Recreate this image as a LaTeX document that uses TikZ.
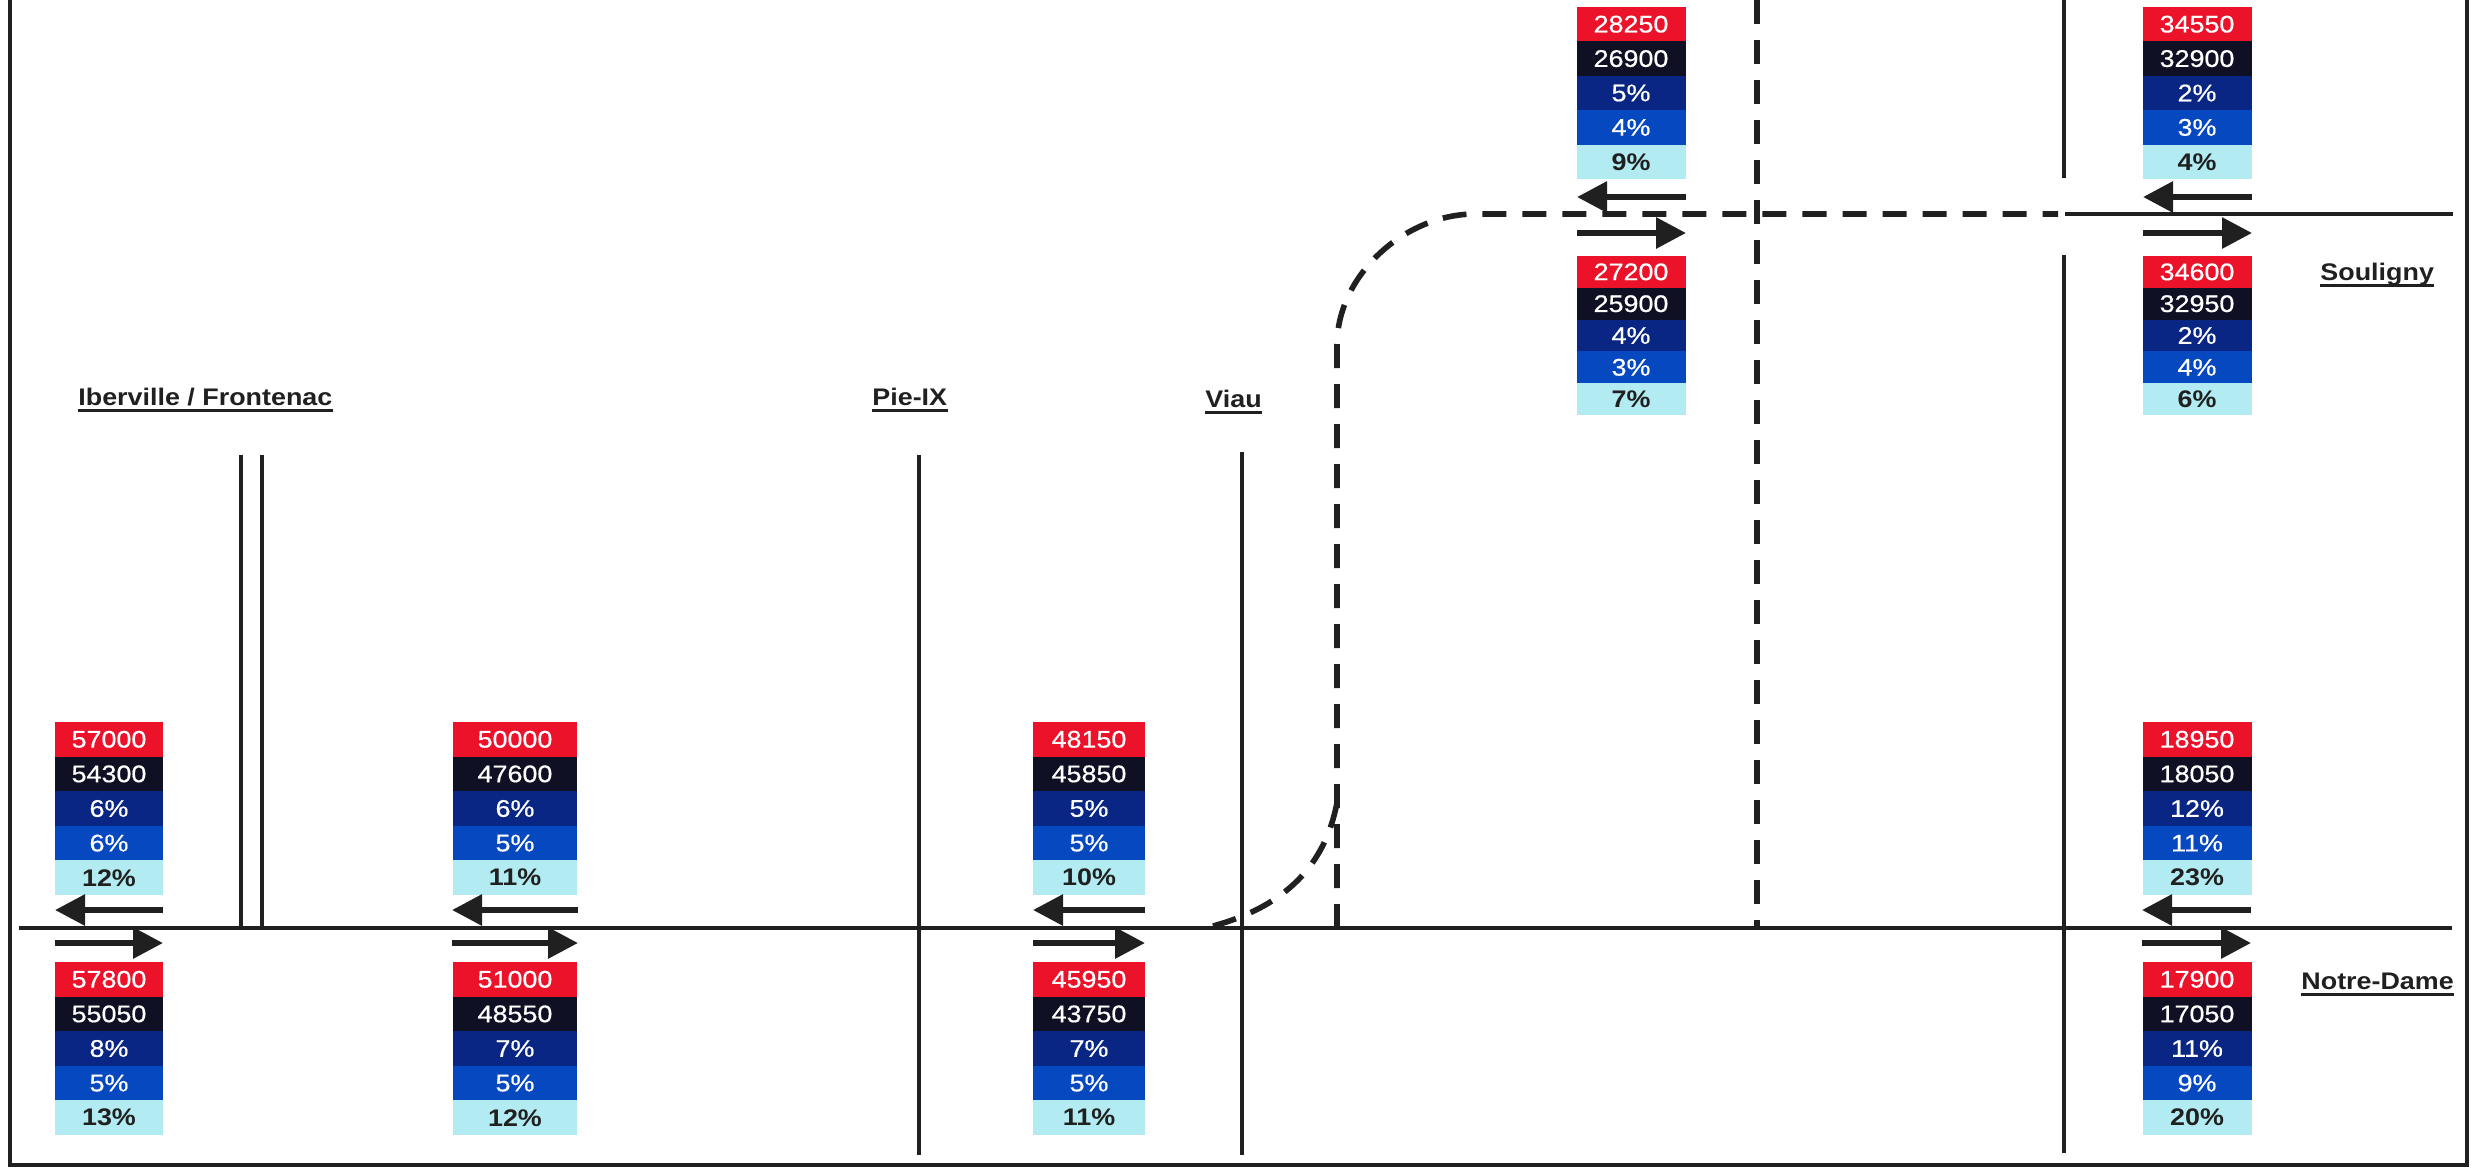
\documentclass[tikz,border=0pt]{standalone}
\usepackage{fontspec}
\newfontfamily\labfont{Liberation Sans}[FakeStretch=1.12]
\newfontfamily\numfont{Liberation Sans}[FakeStretch=1.12,FakeBold=0.6]
\usetikzlibrary{arrows.meta}
\definecolor{cred}{RGB}{236,18,42}
\definecolor{cblk}{RGB}{16,16,36}
\definecolor{cdark}{RGB}{10,38,132}
\definecolor{cblue}{RGB}{6,72,192}
\definecolor{ccyan}{RGB}{178,236,242}
\definecolor{ink}{RGB}{32,32,32}
\tikzset{
  cellbase/.style={inner sep=0pt, outer sep=0pt, anchor=north, text=white,
    font=\numfont\fontsize{12}{14}\selectfont},
  cell1/.style={cellbase, fill=cred},
  cell2/.style={cellbase, fill=cblk},
  cell3/.style={cellbase, fill=cdark},
  cell4/.style={cellbase, fill=cblue},
  cell5/.style={cellbase, fill=ccyan, text=ink, font=\labfont\bfseries\fontsize{12}{14}\selectfont},
  road/.style={line width=2.4pt, draw=ink},
  dashroad/.style={line width=2.8pt, draw=ink, dash pattern=on 12pt off 8pt},
  frame/.style={line width=2pt, draw=ink},
  arr/.style={line width=3pt, draw=ink, -{Triangle[length=15pt,width=15pt]}},
  streetlbl/.style={inner sep=0pt, anchor=base west, text=ink,
    font=\labfont\bfseries\fontsize{12}{14}\selectfont},
  uline/.style={line width=1.5pt, draw=ink}
}
% name, center x, top y, width, row height, values
\newcommand\stk[6]{%
  \foreach \v [count=\i] in {#6} {
    \node[cell\i, minimum width={#4*0.5pt}, minimum height={#5*0.5pt}]
      (#1-\i) at ({#2},{#3+(\i-1)*#5}) {\v};
  }%
}
% left x, right x, y of left arrow, y of right arrow
\newcommand\arrs[4]{%
  \draw[arr] (#2,#3) -- (#1,#3);
  \draw[arr] (#1,#4) -- (#2,#4);
}
\newcommand\slabel[4]{% name, x, baseline y, text
  \node[streetlbl] (#1) at (#2,#3) {#4};
  \draw[uline] ([yshift=-2.5pt]#1.base west) -- ([yshift=-2.5pt]#1.base east);
}
\begin{document}
\begin{tikzpicture}[x=0.5pt,y=-0.5pt]
\useasboundingbox (0,0) rectangle (2471,1169);
% frame
\draw[frame] (10,0) -- (10,1165) -- (2467,1165) -- (2467,0);
% roads
\draw[road] (19,928) -- (2452,928);
\draw[road] (2065,214) -- (2453,214);
\draw[road] (241,455) -- (241,928);
\draw[road] (262,455) -- (262,928);
\draw[road] (919,455) -- (919,1155);
\draw[road] (1242,452) -- (1242,1155);
\draw[road] (2064,0) -- (2064,178);
\draw[road] (2064,255) -- (2064,1153);
% projected links (dashed)
\draw[dashroad] (1757,0) -- (1757,926);
\draw[dashroad] (1337,928) -- (1337,345) .. controls (1337,275) and (1405,214) .. (1475,214) -- (2058,214);
\draw[dashroad] (1213,926) .. controls (1290,905) and (1330,860) .. (1339,790);
% stacks
\stk{A}{109}{722}{108}{34.6}{57000,54300,6\%,6\%,12\%}
\stk{a}{109}{962}{108}{34.6}{57800,55050,8\%,5\%,13\%}
\arrs{55}{163}{910}{943}
\stk{B}{515}{722}{124}{34.6}{50000,47600,6\%,5\%,11\%}
\stk{b}{515}{962}{124}{34.6}{51000,48550,7\%,5\%,12\%}
\arrs{452}{578}{910}{943}
\stk{C}{1089}{722}{112}{34.6}{48150,45850,5\%,5\%,10\%}
\stk{c}{1089}{962}{112}{34.6}{45950,43750,7\%,5\%,11\%}
\arrs{1033}{1145}{910}{943}
\stk{F}{2197}{722}{109}{34.6}{18950,18050,12\%,11\%,23\%}
\stk{f}{2197}{962}{109}{34.6}{17900,17050,11\%,9\%,20\%}
\arrs{2142}{2251}{910}{943}
\stk{D}{1631}{7}{109}{34.4}{28250,26900,5\%,4\%,9\%}
\stk{d}{1631}{256}{109}{31.8}{27200,25900,4\%,3\%,7\%}
\arrs{1577}{1686}{197}{233}
\stk{E}{2197}{7}{109}{34.4}{34550,32900,2\%,3\%,4\%}
\stk{e}{2197}{256}{109}{31.8}{34600,32950,2\%,4\%,6\%}
\arrs{2143}{2252}{197}{233}
% street names
\slabel{lIber}{78}{405}{Iberville / Frontenac}
\slabel{lPie}{872}{405}{Pie-IX}
\slabel{lViau}{1205}{407}{Viau}
\slabel{lSoul}{2320}{280}{Souligny}
\slabel{lND}{2301}{989}{Notre-Dame}
\end{tikzpicture}
\end{document}
